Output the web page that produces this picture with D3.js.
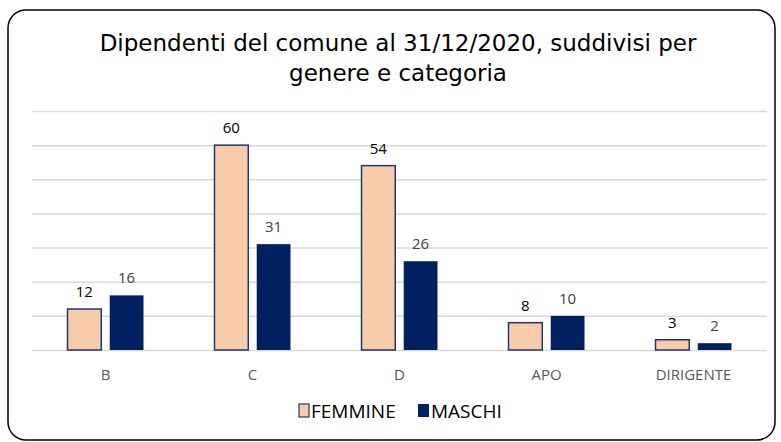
<!DOCTYPE html>
<html>
<head>
<meta charset="utf-8">
<script src="https://cdn.jsdelivr.net/npm/d3@7"></script>
<style>
  body { margin: 0; background: #fff; }
  text { font-family: "Open Sans", "DejaVu Sans", sans-serif; }
  .title { font-family: "DejaVu Sans", sans-serif; }
</style>
</head>
<body>
<svg id="chart" width="781" height="442"></svg>
<script>
var categories = ['B', 'C', 'D', 'APO', 'DIRIGENTE'],
    femmine = [12, 60, 54, 8, 3],
    maschi = [16, 31, 26, 10, 2],
    seriesNames = ['FEMMINE', 'MASCHI'],
    yTicks = [0, 10, 20, 30, 40, 50, 60, 70];

var svg = d3.select('#chart'),
    margin = {top: 111, right: 14, bottom: 92, left: 32},
    width = +svg.attr('width') - margin.left - margin.right,
    height = +svg.attr('height') - margin.top - margin.bottom;

// outer frame
svg.append('rect')
  .attr('x', 8).attr('y', 10)
  .attr('width', 767).attr('height', 430)
  .attr('rx', 18)
  .attr('fill', '#fff')
  .attr('stroke', '#000')
  .attr('stroke-width', 1.5);

var title = svg.append('g')
  .attr('font-size', 23)
  .attr('text-anchor', 'middle');
title.append('text')
  .attr('class', 'title')
  .attr('x', 398).attr('y', 51)
  .attr('fill', '#000')
  .text('Dipendenti del comune al 31/12/2020, suddivisi per');
title.append('text')
  .attr('class', 'title')
  .attr('x', 398).attr('y', 81)
  .attr('fill', '#000')
  .text('genere e categoria');

var g = svg.append('g')
  .attr('transform', `translate(${margin.left}, ${margin.top})`);

var x0 = d3.scaleBand().domain(categories).range([0, width]),
    x1 = d3.scaleBand().domain(seriesNames).range([0, 76]).paddingInner(0.2),
    y = d3.scaleLinear().domain([0, 70]).range([height, 0]);

// gridlines
g.append('g')
  .call(d3.axisLeft(y).tickValues(yTicks).tickSize(-width).tickFormat(''))
  .call(s => s.select('.domain').remove())
  .call(s => s.selectAll('line').attr('stroke', '#d9d9d9').attr('stroke-width', 1.5));

// x axis labels
g.append('g')
  .attr('transform', `translate(0, ${height})`)
  .call(d3.axisBottom(x0).tickSize(0).tickPadding(19))
  .call(s => s.select('.domain').remove())
  .call(s => s.selectAll('text').attr('font-size', 15).attr('fill', '#595959'));

var rows = categories.map((c, i) => ({cat: c, vals: [
  {s: 'FEMMINE', v: femmine[i]}, {s: 'MASCHI', v: maschi[i]}]}));

var groups = g.selectAll('.grp')
  .data(rows)
  .enter().append('g')
  .attr('transform', d => `translate(${x0(d.cat) + x0.bandwidth() / 2 - 38}, 0)`);

groups.selectAll('rect')
  .data(d => d.vals)
  .enter().append('rect')
  .attr('x', d => x1(d.s))
  .attr('y', d => y(d.v))
  .attr('width', x1.bandwidth())
  .attr('height', d => height - y(d.v))
  .attr('fill', d => d.s === 'FEMMINE' ? '#f8cbad' : '#002060')
  .attr('stroke', d => d.s === 'FEMMINE' ? '#1f3864' : 'none')
  .attr('stroke-width', 1.5);

groups.selectAll('.lbl')
  .data(d => d.vals)
  .enter().append('text')
  .attr('x', d => x1(d.s) + x1.bandwidth() / 2)
  .attr('y', d => y(d.v) - 12)
  .attr('text-anchor', 'middle')
  .attr('font-size', 15)
  .attr('fill', d => d.s === 'FEMMINE' ? '#000' : '#404040')
  .text(d => d.v);

// legend
var legend = svg.append('g').attr('transform', 'translate(299, 404)');
legend.append('rect').attr('x', 0).attr('y', 0).attr('width', 10).attr('height', 13)
  .attr('fill', '#f8cbad').attr('stroke', '#1f3864').attr('stroke-width', 1.2);
legend.append('text').attr('x', 12).attr('y', 14).attr('font-size', 19).text('FEMMINE');
legend.append('rect').attr('x', 119).attr('y', 0).attr('width', 11).attr('height', 13)
  .attr('fill', '#002060');
legend.append('text').attr('x', 132).attr('y', 14).attr('font-size', 19).text('MASCHI');
</script>
</body>
</html>
